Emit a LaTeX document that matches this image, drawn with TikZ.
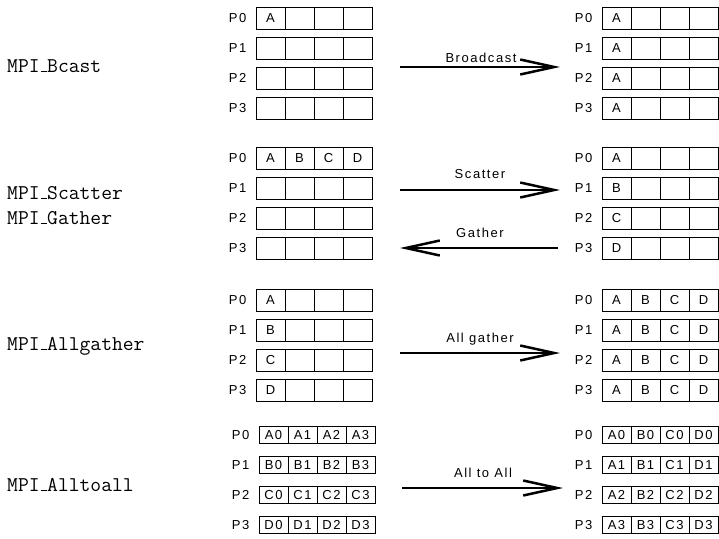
\documentclass[tikz,border=0pt]{standalone}
\usepackage{fontspec}
\newfontfamily\labfont{Liberation Sans}[LetterSpace=12]
\usetikzlibrary{arrows.meta}
\newcommand{\usc}{\leavevmode\kern.06em\vbox{\hrule height 1.1pt width.3em}}
\tikzset{
 cell/.style={draw, line width=0.9pt, minimum width=29pt, inner sep=0pt, font=\labfont\fontsize{13}{15}\selectfont},
 plab/.style={anchor=east, inner sep=0pt, font=\labfont\fontsize{13}{15}\selectfont},
 mpilab/.style={anchor=base west, inner sep=0pt, font=\ttfamily\fontsize{21}{24}\selectfont},
 arrlab/.style={anchor=base, inner sep=0pt, font=\labfont\fontsize{13}{15}\selectfont},
 bigarrow/.style={line width=1.8pt, -{Straight Barb[length=34pt, width=15pt, line width=2.5pt]}},
}
\newcommand{\procrow}[9]{%
  \node[plab] (#1p) at ({#2-9.5},#3) {#5};
  \node[cell, minimum height=#4] (#1a) at ({#2+14.5},#3) {#6};
  \node[cell, minimum height=#4] (#1b) at ({#2+43.5},#3) {#7};
  \node[cell, minimum height=#4] (#1c) at ({#2+72.5},#3) {#8};
  \node[cell, minimum height=#4] (#1d) at ({#2+101.5},#3) {#9};
}
\begin{document}
\begin{tikzpicture}[x=1pt,y=-1pt]
\useasboundingbox (0,0) rectangle (719,538);
% labels
\node[mpilab] (m1) at (7,72) {MPI\usc Bcast};
\node[mpilab] (m2) at (7,199) {MPI\usc Scatter};
\node[mpilab] (m3) at (7,224) {MPI\usc Gather};
\node[mpilab] (m4) at (7,350) {MPI\usc Allgather};
\node[mpilab] (m5) at (7,491) {MPI\usc Alltoall};
% group 1
\procrow{La0}{256}{18}{22}{P0}{A}{}{}{}
\procrow{La1}{256}{48}{22}{P1}{}{}{}{}
\procrow{La2}{256}{78}{22}{P2}{}{}{}{}
\procrow{La3}{256}{108}{22}{P3}{}{}{}{}
\procrow{Ra0}{602}{18}{22}{P0}{A}{}{}{}
\procrow{Ra1}{602}{48}{22}{P1}{A}{}{}{}
\procrow{Ra2}{602}{78}{22}{P2}{A}{}{}{}
\procrow{Ra3}{602}{108}{22}{P3}{A}{}{}{}
% group 2
\procrow{Lb0}{256}{158}{22}{P0}{A}{B}{C}{D}
\procrow{Lb1}{256}{188}{22}{P1}{}{}{}{}
\procrow{Lb2}{256}{218}{22}{P2}{}{}{}{}
\procrow{Lb3}{256}{248}{22}{P3}{}{}{}{}
\procrow{Rb0}{602}{158}{22}{P0}{A}{}{}{}
\procrow{Rb1}{602}{188}{22}{P1}{B}{}{}{}
\procrow{Rb2}{602}{218}{22}{P2}{C}{}{}{}
\procrow{Rb3}{602}{248}{22}{P3}{D}{}{}{}
% group 3
\procrow{Lc0}{256}{300}{22}{P0}{A}{}{}{}
\procrow{Lc1}{256}{330}{22}{P1}{B}{}{}{}
\procrow{Lc2}{256}{360}{22}{P2}{C}{}{}{}
\procrow{Lc3}{256}{390}{22}{P3}{D}{}{}{}
\procrow{Rc0}{602}{300}{22}{P0}{A}{B}{C}{D}
\procrow{Rc1}{602}{330}{22}{P1}{A}{B}{C}{D}
\procrow{Rc2}{602}{360}{22}{P2}{A}{B}{C}{D}
\procrow{Rc3}{602}{390}{22}{P3}{A}{B}{C}{D}
% group 4
\procrow{Ld0}{259}{435}{17}{P0}{A0}{A1}{A2}{A3}
\procrow{Ld1}{259}{465}{17}{P1}{B0}{B1}{B2}{B3}
\procrow{Ld2}{259}{495}{17}{P2}{C0}{C1}{C2}{C3}
\procrow{Ld3}{259}{525}{17}{P3}{D0}{D1}{D2}{D3}
\procrow{Rd0}{602}{435}{17}{P0}{A0}{B0}{C0}{D0}
\procrow{Rd1}{602}{465}{17}{P1}{A1}{B1}{C1}{D1}
\procrow{Rd2}{602}{495}{17}{P2}{A2}{B2}{C2}{D2}
\procrow{Rd3}{602}{525}{17}{P3}{A3}{B3}{C3}{D3}
% arrows
\coordinate (bcA) at (400,67); \coordinate (bcB) at (560,67);
\draw[bigarrow] (bcA) -- (bcB);
\node[arrlab] (bcT) at (481,62) {Broadcast};
\coordinate (scA) at (400,190); \coordinate (scB) at (560,190);
\draw[bigarrow] (scA) -- (scB);
\node[arrlab] (scT) at (480,178) {Scatter};
\coordinate (gaA) at (558,248); \coordinate (gaB) at (400,248);
\draw[bigarrow] (gaA) -- (gaB);
\node[arrlab] (gaT) at (480,237) {Gather};
\coordinate (agA) at (400,353); \coordinate (agB) at (560,353);
\draw[bigarrow] (agA) -- (agB);
\node[arrlab] (agT) at (480,342) {All gather};
\coordinate (aaA) at (402,488); \coordinate (aaB) at (563,488);
\draw[bigarrow] (aaA) -- (aaB);
\node[arrlab] (aaT) at (483,477) {All to All};
\end{tikzpicture}
\end{document}
